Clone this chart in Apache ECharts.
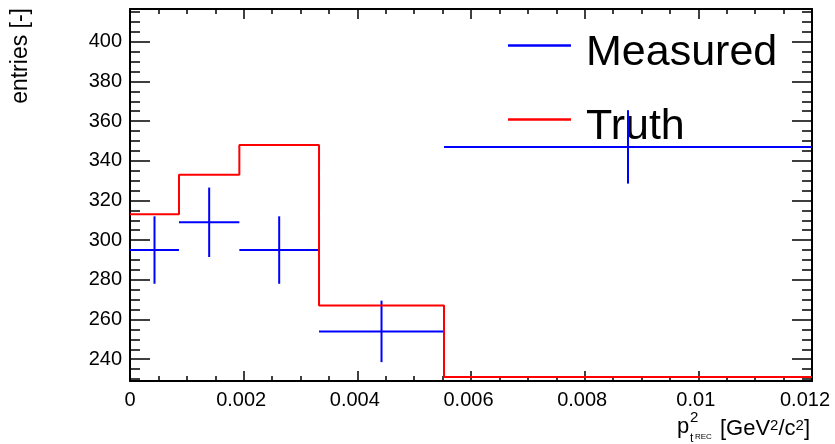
<!DOCTYPE html>
<html>
<head>
<meta charset="utf-8">
<script src="https://cdn.jsdelivr.net/npm/echarts@6/dist/echarts.min.js"></script>
<style>
  html, body { margin: 0; padding: 0; background: #fff; }
  #chart { width: 835px; height: 444px; }
</style>
</head>
<body>
<div id="chart"></div>
<script>
// bin edges in pt^2 (GeV^2/c^2)
const binEdges = [0, 0.000862, 0.001924, 0.003326, 0.005525, 0.012]
const measuredValues = [295, 309, 295, 254, 347]
const measuredErrors = [17, 17.5, 17, 15.5, 18.5]
const truthValues = [313, 333, 348, 267, 231]

const xTickLabels = ['0', '0.002', '0.004', '0.006', '0.008', '0.01', '0.012']
const yTickValues = [240, 260, 280, 300, 320, 340, 360, 380, 400]
const yMinorValues = []
for (let v = 230; v <= 415; v += 5) yMinorValues.push(v)

const FONT = '"Liberation Sans", Arial, Helvetica, sans-serif'

let measuredData = []
for (let i = 0; i < measuredValues.length; i++) {
  measuredData.push([binEdges[i], binEdges[i + 1], measuredValues[i], measuredErrors[i]])
}

let truthData = []
for (let i = 0; i < truthValues.length; i++) {
  truthData.push([binEdges[i], truthValues[i]])
}
truthData.push([binEdges[binEdges.length - 1], truthValues[truthValues.length - 1]])

const lineBlack = { color: '#000', width: 2 }

function xAxisOf (position, showLabel) {
  return {
    type: 'value',
    position: position,
    min: 0,
    max: 0.012,
    interval: 0.002,
    axisLine: { show: true, onZero: false, lineStyle: lineBlack },
    axisTick: { show: true, inside: true, length: 10, lineStyle: { color: '#000', width: 1.5 } },
    minorTick: { show: true, splitNumber: 4, length: 5, lineStyle: { color: '#000', width: 1.5 } },
    splitLine: { show: false },
    axisLabel: {
      show: showLabel,
      margin: 9,
      fontSize: 20,
      fontFamily: FONT,
      color: '#000',
      formatter: function (v) {
        let i = Math.round(v / 0.002)
        if (i === 0) return xTickLabels[i]
        if (i === xTickLabels.length - 1) return '{last|' + xTickLabels[i] + '}'
        return '{mid|' + xTickLabels[i] + '}'
      },
      rich: {
        mid: { fontSize: 20, fontFamily: FONT, color: '#000', padding: [0, 5, 0, 0] },
        last: { fontSize: 20, fontFamily: FONT, color: '#000', padding: [0, 14, 0, 0] }
      }
    }
  }
}

function yAxisOf (position, major, showLine) {
  return {
    type: 'value',
    position: position,
    min: 229,
    max: 416.5,
    axisLine: { show: showLine, onZero: false, lineStyle: lineBlack },
    axisTick: {
      show: true,
      inside: true,
      length: major ? 20 : 10,
      customValues: major ? yTickValues : yMinorValues,
      lineStyle: { color: '#000', width: 1.5 }
    },
    splitLine: { show: false },
    axisLabel: {
      show: major && position === 'left',
      customValues: yTickValues,
      margin: 8,
      fontSize: 20,
      fontFamily: FONT,
      color: '#000'
    }
  }
}

let myChart = echarts.init(document.getElementById('chart'), null, { renderer: 'canvas' })

let option = {
  animation: false,
  backgroundColor: '#fff',
  grid: {
    left: 130,
    right: 23,
    top: 9,
    bottom: 63,
    containLabel: false,
    outerBoundsMode: 'none'
  },
  legend: {
    orient: 'vertical',
    left: 508,
    top: 16,
    padding: 0,
    itemGap: 15,
    itemWidth: 63,
    itemHeight: 2.5,
    selectedMode: false,
    formatter: function (name) { return '{t|' + name + '}' },
    textStyle: {
      fontSize: 43,
      fontFamily: FONT,
      color: '#000',
      rich: {
        t: { fontSize: 43, lineHeight: 43, fontFamily: FONT, color: '#000', padding: [16, 0, 0, 10] }
      }
    },
    data: [
      { name: 'Measured', icon: 'rect' },
      { name: 'Truth', icon: 'rect' }
    ]
  },
  xAxis: [xAxisOf('bottom', true), xAxisOf('top', false)],
  yAxis: [
    yAxisOf('left', true, true),
    yAxisOf('left', false, false),
    yAxisOf('right', true, true),
    yAxisOf('right', false, false)
  ],
  graphic: [
    {
      type: 'text',
      x: 21,
      y: 8,
      rotation: Math.PI / 2,
      style: {
        text: 'entries [-]',
        fontSize: 23,
        fontFamily: FONT,
        fill: '#000',
        align: 'right',
        verticalAlign: 'middle'
      }
    },
    {
      type: 'group',
      children: [
        { type: 'text', x: 677, y: 427, style: { text: 'p', fontSize: 22, fontFamily: FONT, fill: '#000', verticalAlign: 'middle' } },
        { type: 'text', x: 690, y: 418, style: { text: '2', fontSize: 15, fontFamily: FONT, fill: '#000', verticalAlign: 'middle' } },
        { type: 'text', x: 690, y: 439, style: { text: 't', fontSize: 12, fontFamily: FONT, fill: '#000', verticalAlign: 'middle' } },
        { type: 'text', x: 695, y: 437, style: { text: 'REC', fontSize: 8, fontFamily: FONT, fill: '#000', verticalAlign: 'middle' } },
        {
          type: 'text',
          x: 810,
          y: 429,
          style: {
            text: '[GeV{s|2}/c{s|2}]',
            fontSize: 22,
            fontFamily: FONT,
            fill: '#000',
            align: 'right',
            verticalAlign: 'middle',
            rich: {
              s: { fontSize: 15, fontFamily: FONT, fill: '#000', verticalAlign: 'top', lineHeight: 15, padding: [0, 0, 7, 0] }
            }
          }
        }
      ]
    }
  ],
  series: [
    {
      name: 'Truth',
      type: 'line',
      step: 'end',
      showSymbol: false,
      color: '#ff0000',
      lineStyle: { color: '#ff0000', width: 2 },
      data: truthData,
      z: 6
    },
    {
      name: 'Measured',
      type: 'custom',
      color: '#0000ff',
      encode: { x: [0, 1], y: 2 },
      renderItem: function (params, api) {
        let lo = api.value(0)
        let hi = api.value(1)
        let y = api.value(2)
        let err = api.value(3)
        let mid = (lo + hi) / 2
        let a = api.coord([lo, y])
        let b = api.coord([hi, y])
        let top = api.coord([mid, y + err])
        let bot = api.coord([mid, y - err])
        let style = { stroke: '#0000ff', lineWidth: 2 }
        return {
          type: 'group',
          children: [
            { type: 'line', shape: { x1: a[0], y1: a[1], x2: b[0], y2: b[1] }, style: style },
            { type: 'line', shape: { x1: top[0], y1: top[1], x2: bot[0], y2: bot[1] }, style: style }
          ]
        }
      },
      data: measuredData,
      z: 5
    }
  ]
}

myChart.setOption(option)
</script>
</body>
</html>
